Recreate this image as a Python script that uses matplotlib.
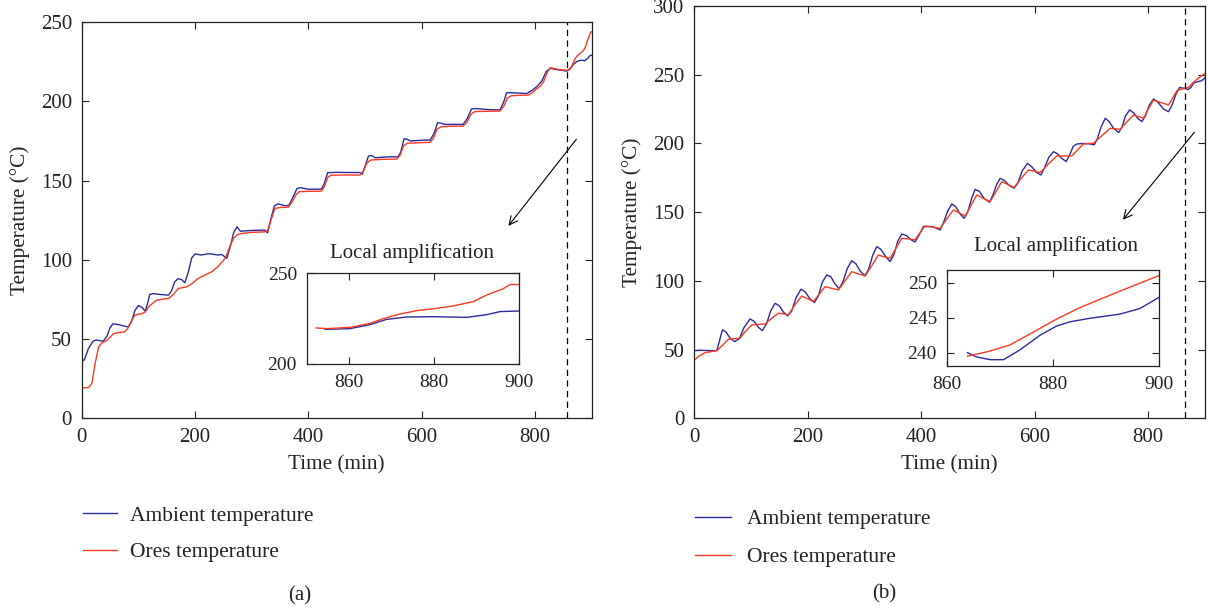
import numpy as np
import matplotlib
matplotlib.use("Agg")
import matplotlib.pyplot as plt

plt.rcParams['font.family'] = ['Liberation Serif', 'DejaVu Serif']
plt.rcParams['font.size'] = 15
plt.rcParams['text.color'] = '#222222'
plt.rcParams['axes.labelcolor'] = '#222222'
plt.rcParams['xtick.color'] = '#222222'
plt.rcParams['ytick.color'] = '#222222'

BLUE = '#2b2b9c'
RED = '#fb3a22'

# ---- panel (a) ----
a_amb_t = [0, 5, 12, 20, 25, 38, 45, 50, 55, 65, 82, 88, 94, 100, 106, 112, 116, 120, 126, 140,
           153, 158, 164, 170, 176, 182, 188, 194, 200, 210, 225, 240, 247, 252, 256, 262, 268, 274,
           280, 300, 323, 328, 334, 340, 346, 360, 366, 372, 380, 386, 400, 423, 428, 434, 450, 470,
           491, 495, 500, 506, 512, 518, 540, 558, 563, 569, 575, 580, 600, 615, 622, 628, 634, 640,
           673, 680, 688, 695, 720, 738, 744, 750, 760, 785, 795, 805, 812, 820, 827, 840, 856, 862,
           868, 874, 880, 888, 893, 897, 900]
a_amb_T = [35.5, 37, 44, 48.5, 49.3, 48.5, 52, 57, 59.5, 59, 57.5, 61, 68, 71, 70, 67.5, 72, 78, 78.6, 78,
           77.6, 80, 86, 88, 87.5, 85.5, 92, 101, 103.7, 103, 103.8, 103, 103.3, 102, 100.8, 108, 117, 120.8,
           118, 118.5, 118.7, 117, 126, 134, 135.3, 134, 134.5, 139, 145, 145.5, 144.5, 144.6, 148, 155, 155.2, 155.1,
           155.1, 154, 159, 165.5, 165.8, 164.4, 165, 165, 168, 176.5, 176, 175, 175.5, 175.6, 180, 186.5, 186.3, 185.5,
           185.5, 189, 195.3, 195.5, 194.8, 194.6, 199, 205.5, 205.5, 205, 207, 210, 213, 219, 220.9, 220, 219.2, 220.5,
           223.5, 225.3, 226, 225.8, 227.2, 229, 229.2]

a_ore_t = [0, 12, 18, 24, 30, 36, 44, 50, 56, 66, 76, 82, 88, 94, 100, 106, 112, 120, 132, 145,
           153, 160, 170.6, 178, 185, 195, 205, 217, 230, 240, 250, 256, 262, 268, 275, 282, 300, 323,
           328, 334, 341, 350, 365, 372, 378, 384, 400, 423, 428, 434, 440, 460, 491, 497, 503, 510,
           530, 556, 562, 568, 575, 600, 615, 621, 627, 634, 650, 673, 680, 687, 694, 720, 738, 745,
           751, 758, 775, 788, 795, 803, 809, 815, 821, 827, 840, 852, 856, 860, 865, 868, 872, 876,
           880, 885, 889, 892, 896, 898, 900]
a_ore_T = [19, 19.2, 22, 35, 45, 47.5, 49, 51, 53.3, 54, 54.4, 57, 61.5, 65, 65.6, 65.8, 67, 71, 74.4, 75.2,
           75.5, 77.5, 81.8, 82.4, 82.8, 85, 88, 90.2, 92.5, 95.5, 99.5, 103, 109, 113.5, 115.8, 116.6, 117.3, 117.6,
           118.5, 125, 132.4, 133, 133.2, 137, 141, 143, 143.2, 143.3, 146, 152, 153.4, 153.5, 153.5, 156, 161, 163,
           163.4, 163.6, 166, 172, 173.6, 174, 174.1, 177, 182.5, 184, 184.3, 184.4, 187, 192, 193.6, 193.8, 193.9, 197,
           202, 203.6, 203.9, 204, 205.5, 208, 209.5, 212.5, 218, 221.3, 220.3, 219.8, 219.6, 220.2, 222.4, 225, 227.6, 229.4,
           230.5, 232, 234.4, 238, 241.5, 243.8, 244]

# inset (a)
a_in_amb_t = [854.3, 860.2, 864.9, 868.8, 873.5, 879.8, 887.6, 892.3, 895.5, 900]
a_in_amb_T = [219.1, 219.5, 221.7, 224.6, 225.9, 226.1, 225.7, 227.2, 228.9, 229.2]
a_in_ore_t = [852.2, 854.7, 860.2, 864.9, 868, 872, 875.9, 879.8, 884.5, 889.2, 892.3, 896.2, 897.8, 900]
a_in_ore_T = [219.9, 219.5, 220.2, 222.4, 225, 227.6, 229.4, 230.5, 232, 234.4, 238, 241.5, 243.8, 243.8]

# ---- panel (b) ----
b_amb_t = [0, 10, 25, 40, 44, 50, 56, 64, 72, 80, 88, 98.7, 106, 114, 120.4, 128, 135, 142.7, 150, 158,
           165, 172, 180, 188.5, 196, 204, 212, 219, 226, 233.8, 241, 248, 255.5, 262, 270, 277.8, 285,
           293, 301.3, 308, 315, 321.9, 329, 337, 345.4, 352, 359, 366, 374, 382, 389.4, 396, 404, 418.8,
           426, 433.5, 440, 447, 454, 461, 468, 475.7, 482, 489, 495, 503, 511, 520.4, 526, 533, 539.2,
           547, 555, 563.8, 570, 578, 587.4, 595, 603, 610.9, 617, 625, 633.2, 640, 648, 655.6, 662, 668,
           674.4, 686, 698, 705, 710, 717, 724.3, 731, 739, 748, 754, 760, 767.2, 775, 782, 789, 795, 802,
           809.4, 817, 827, 835.8, 842, 849, 855.3, 860, 865.2, 870, 875, 880, 885, 893, 897, 900]
b_amb_T = [49.2, 49.5, 49.3, 49.2, 55, 64.3, 63, 58, 55.8, 58, 66, 72.3, 70.5, 66, 63.8, 69, 78, 83.7, 82, 77,
           74.5, 78, 88, 93.9, 92, 87, 84.2, 89, 99, 104.3, 103, 98, 94.3, 99, 109, 114.7, 112.5,
           107, 103.6, 109, 119, 124.9, 123, 118, 114, 119, 129, 134.1, 133, 130, 128.3, 133, 139.5, 139.5,
           138.5, 137, 143, 151, 156, 154, 149, 145.5, 150, 160, 166.6, 165, 160, 157.2, 162, 170, 174.6,
           173, 169.5, 167.4, 171, 180, 185.5, 183, 179, 177, 182, 190, 194, 192.5, 189, 186.8, 192, 198,
           199.6, 200, 199.6, 199, 203, 212, 218.3, 216, 211, 207.9, 212, 220, 224.4, 222, 218, 215.9, 220, 228,
           232.4, 230, 225, 223.1, 228, 236, 240.8, 240.3, 240.1, 239.1, 240.6, 243.8, 244.7, 245.5, 246.5, 247.8]

b_ore_t = [0, 8, 19.4, 40, 50, 60.5, 70, 81, 90, 101.6, 112, 125, 136, 148.6, 158, 166, 177, 189.7, 200,
           210.3, 220, 230.8, 243, 254.3, 266, 277.8, 290, 301.3, 313, 324.8, 335, 345.4, 356, 366, 378,
           389.4, 398, 407, 420, 433.5, 445, 457, 467, 477.6, 488, 498, 510, 521.6, 532, 542, 553, 563.8,
           576, 589, 600, 609.6, 624, 639, 652, 665.5, 676, 686, 695, 703.7, 718, 733, 742, 750.6, 762,
           774.2, 783, 791.8, 800, 809.4, 822, 835.8, 843, 850.5, 858, 865.2, 872, 880, 890, 900]
b_ore_T = [42, 45, 47.8, 49.2, 53, 57.5, 58, 58.2, 63, 67.9, 68.3, 68.6, 72.5, 76.4, 76, 75.2, 82, 89, 87,
           84.9, 90, 95.8, 94.5, 93.4, 100, 106.7, 105, 103.6, 111, 118.8, 117.5, 116.4, 124, 131, 130.5,
           129.8, 135, 140, 139.2, 138.2, 145, 151.6, 149.5, 147.2, 155, 162.5, 160, 157.7, 165, 172.2, 170, 168,
           174.5, 180.7, 179.8, 178.8, 185, 190.9, 190.9, 190.9, 195.5, 199.6, 200, 200.1, 205.5, 211, 210.7, 210.3, 215.5,
           220.7, 219.5, 218.3, 225, 231.6, 229.8, 228, 233, 238.4, 239.4, 240, 241.1, 244.7, 248, 251]

# inset (b)
b_in_amb_t = [863.9, 865.6, 868.2, 870.7, 873.8, 877.6, 880.7, 883.2, 886.9, 892.6, 896.4, 900]
b_in_amb_T = [240, 239.4, 239.0, 239.0, 240.4, 242.5, 243.8, 244.4, 244.9, 245.5, 246.3, 247.9]
b_in_ore_t = [863.9, 868, 871.9, 876, 880.7, 885, 890.1, 895, 900]
b_in_ore_T = [239.5, 240.2, 241.1, 242.8, 244.8, 246.4, 248.0, 249.5, 251.0]

W, H = 1208, 611
fig = plt.figure(figsize=(W / 100, H / 100), dpi=100)


def px_rect(x0, y0, x1, y1):
    return [x0 / W, 1 - y1 / H, (x1 - x0) / W, (y1 - y0) / H]


def style(ax, pad=8, size=15):
    ax.tick_params(direction='in', top=True, right=True, length=5, width=0.8,
                   pad=pad, labelsize=size)
    for s in ax.spines.values():
        s.set_linewidth(0.9)
        s.set_color('#222222')


ax1 = fig.add_axes(px_rect(81.7, 22.3, 591.7, 418))
ax2 = fig.add_axes(px_rect(694, 6, 1205, 418.3))

panels = [
    (ax1, a_amb_t, a_amb_T, a_ore_t, a_ore_T, 250, 856, (876, 177.5), (750, 120), (583, 104.5),
     (-0.036, -0.1726), 1.6, 0.6, 0.76),
    (ax2, b_amb_t, b_amb_T, b_ore_t, b_ore_T, 300, 865, (884.6, 209.8), (752.4, 142.9), (638, 125),
     (-0.036, -0.173), 1.67, 0.75, 0.84),
]
for ax, ta, Ta, to, To, ymax, vx, a0, a1, tpos, lpos, hl, htp, ls in panels:
    la, = ax.plot(ta, Ta, color=BLUE, lw=1.0, label='Ambient temperature')
    lo, = ax.plot(to, To, color=RED, lw=1.0, label='Ores temperature')
    ax.axvline(vx, color='black', lw=0.9, ls=(0, (5, 3.5)))
    ax.set_xlim(0, 900)
    ax.set_ylim(0, ymax)
    ax.set_xticks([0, 200, 400, 600, 800])
    style(ax, pad=7)
    ax.set_xlabel('Time (min)', labelpad=6, fontsize=15.3)
    ax.set_ylabel('Temperature (°C)', labelpad=8, fontsize=15.3)
    ax.annotate('', xy=a1, xytext=a0,
                arrowprops=dict(arrowstyle='->', lw=0.8, color='black'))
    ax.text(tpos[0], tpos[1], 'Local amplification', ha='center', va='center', fontsize=15)
    ax.legend(handles=[la, lo], loc='upper left', frameon=False, fontsize=15.5,
              bbox_to_anchor=lpos, handlelength=hl, handletextpad=htp,
              labelspacing=ls)

# insets
ins1 = fig.add_axes(px_rect(306.7, 273.3, 519.3, 364))
ins1.plot(a_in_amb_t, a_in_amb_T, color=BLUE, lw=1.0)
ins1.plot(a_in_ore_t, a_in_ore_T, color=RED, lw=1.0)
ins1.set_xlim(850, 900)
ins1.set_ylim(200, 250)
ins1.set_xticks([860, 880, 900])
ins1.set_yticks([200, 250])
style(ins1, pad=7, size=14)

ins2 = fig.add_axes(px_rect(946.7, 270, 1159, 366))
ins2.plot(b_in_amb_t, b_in_amb_T, color=BLUE, lw=1.0)
ins2.plot(b_in_ore_t, b_in_ore_T, color=RED, lw=1.0)
ins2.set_xlim(860, 900)
ins2.set_ylim(238.1, 251.8)
ins2.set_xticks([860, 880, 900])
ins2.set_yticks([240, 245, 250])
style(ins2, pad=7, size=14)

fig.text(300 / W, 1 - 596 / H, '(a)', ha='center', va='center', fontsize=15)
fig.text(884 / W, 1 - 594 / H, '(b)', ha='center', va='center', fontsize=15)

fig.savefig('out.png', dpi=100)
